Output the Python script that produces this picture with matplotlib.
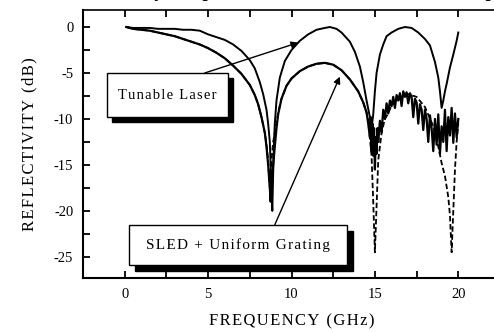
import matplotlib
matplotlib.use("Agg")
import matplotlib.pyplot as plt
from matplotlib.patches import Rectangle

plt.rcParams['font.family'] = ['Liberation Serif', 'DejaVu Serif']

# tunable laser trace (solid, upper)
laser_f = [0.1, 0.5, 1.0, 1.5, 2.0, 2.5, 3.0, 3.5, 4.0, 4.5, 5.0, 5.5, 6.0, 6.5, 7.0,
           7.5, 7.8, 8.1, 8.3, 8.5, 8.6, 8.7, 8.75, 8.8, 8.85, 8.9, 8.95, 9.0, 9.1,
           9.3, 9.6, 10.0, 10.5, 11.0, 11.5, 12.0, 12.3, 12.7, 13.0, 13.5, 13.8,
           14.1, 14.3, 14.5, 14.7, 14.8, 14.9, 15.0, 15.1, 15.3, 15.5, 15.7, 16.0,
           16.4, 16.8, 17.2, 17.6, 18.0, 18.3, 18.6, 18.8, 18.9, 19.0, 19.1, 19.2,
           19.3, 19.5, 19.7, 19.9, 20.0]
laser_db = [0.0, -0.1, -0.1, -0.1, -0.2, -0.2, -0.2, -0.3, -0.3, -0.4, -0.8, -1.1,
            -1.4, -1.9, -2.6, -3.6, -4.5, -6.0, -7.3, -9.0, -10.5, -12.5, -15.0,
            -18.0, -20.0, -16.0, -12.5, -10.5, -8.0, -5.5, -3.7, -2.5, -1.5, -0.8,
            -0.3, -0.1, 0.0, -0.2, -0.6, -1.6, -2.7, -4.3, -6.0, -8.0, -9.8, -11.0,
            -9.5, -7.0, -5.0, -3.0, -1.9, -1.0, -0.6, -0.2, 0.0, -0.1, -0.6, -1.3,
            -2.0, -3.8, -5.5, -7.0, -8.8, -8.0, -7.0, -6.2, -4.4, -3.0, -1.5, -0.6]

# SLED + uniform grating, measured (solid, noisy)
sled_f = [0.1, 0.5, 1.0, 1.5, 2.0, 2.5, 3.0, 3.5, 4.0, 4.5, 5.0, 5.5, 6.0, 6.5, 7.0,
          7.5, 7.8, 8.0, 8.2, 8.4, 8.5, 8.6, 8.7, 8.75, 8.8, 8.9, 9.0, 9.1, 9.2,
          9.4, 9.7, 10.0, 10.5, 11.0, 11.5, 12.0, 12.5, 13.0, 13.5, 14.0, 14.3,
          14.5, 14.6, 14.7, 14.75, 14.8, 14.85, 14.9, 14.95, 15.0, 15.05, 15.1,
          15.15, 15.2, 15.3, 15.4, 15.5, 15.6, 15.7, 15.8, 15.9, 16.0, 16.1, 16.2,
          16.3, 16.4, 16.5, 16.6, 16.7, 16.8, 16.9, 17.0, 17.1, 17.2, 17.3, 17.4,
          17.5, 17.6, 17.7, 17.8, 17.9, 18.0, 18.1, 18.2, 18.3, 18.4, 18.5, 18.6,
          18.7, 18.8, 18.9, 19.0, 19.1, 19.2, 19.3, 19.4, 19.5, 19.6, 19.7, 19.8,
          19.9, 20.0]
sled_db = [0.0, -0.2, -0.3, -0.4, -0.6, -0.8, -1.0, -1.3, -1.6, -1.9, -2.3, -2.8,
           -3.4, -4.2, -5.1, -6.3, -7.4, -8.4, -9.8, -11.5, -13.0, -15.0, -17.5,
           -19.0, -17.0, -15.0, -13.0, -11.0, -9.5, -7.8, -6.4, -5.6, -4.8, -4.3,
           -4.0, -3.9, -4.1, -4.7, -5.7, -7.0, -8.2, -9.3, -10.5, -12.0, -9.8,
           -13.5, -10.5, -14.0, -11.0, -15.5, -12.0, -13.8, -11.0, -12.5, -10.2,
           -11.5, -9.0, -10.0, -8.3, -9.4, -8.0, -8.6, -7.6, -8.8, -7.4, -8.0,
           -7.2, -8.6, -7.0, -7.6, -7.1, -8.3, -7.2, -7.6, -9.8, -7.8, -8.2, -10.5,
           -8.4, -9.0, -11.2, -9.0, -10.0, -12.5, -9.6, -11.0, -13.5, -10.0, -12.8,
           -9.5, -13.8, -10.8, -12.5, -9.0, -13.5, -9.8, -11.8, -8.8, -12.6, -9.4,
           -12.0, -10.0]

# SLED + uniform grating, calculated (dashed)
calc_f = [0.1, 0.5, 1.0, 1.5, 2.0, 2.5, 3.0, 3.5, 4.0, 4.5, 5.0, 5.5, 6.0, 6.5, 7.0,
          7.5, 7.8, 8.0, 8.2, 8.4, 8.5, 8.6, 8.7, 8.8, 8.9, 9.0, 9.1, 9.2, 9.4, 9.7,
          10.0, 10.5, 11.0, 11.5, 12.0, 12.5, 13.0, 13.5, 14.0, 14.3, 14.5, 14.6,
          14.8, 14.9, 15.0, 15.1, 15.2, 15.4, 15.6, 15.8, 16.0, 16.5, 17.0, 17.5,
          18.0, 18.5, 18.8, 19.0, 19.2, 19.4, 19.5, 19.6, 19.7, 19.8, 19.9, 20.0]
calc_db = [0.0, -0.2, -0.3, -0.4, -0.6, -0.8, -1.0, -1.3, -1.6, -1.9, -2.3, -2.8,
           -3.4, -4.2, -5.1, -6.3, -7.4, -8.4, -9.8, -11.5, -12.8, -14.5, -17.5,
           -14.5, -12.5, -11.5, -10.5, -9.3, -7.8, -6.4, -5.6, -4.8, -4.3, -4.0,
           -3.9, -4.1, -4.7, -5.7, -7.0, -8.2, -9.3, -10.2, -14.0, -19.0, -24.5,
           -19.5, -14.5, -11.5, -10.0, -9.4, -8.5, -7.6, -7.3, -7.6, -8.7, -10.8,
           -13.0, -14.8, -16.2, -18.5, -20.5, -24.5, -20.0, -15.5, -12.5, -10.5]

x_ticks = [0, 5, 10, 15, 20]
y_ticks = [0, -5, -10, -15, -20, -25]


def spaced(s):
    return '\u200a'.join(s)


fig = plt.figure(figsize=(4.94, 3.32), dpi=100)
ax = fig.add_axes([83 / 494, 54 / 332, 417 / 494, 268 / 332])

ax.plot(calc_f, calc_db, color='black', lw=1.3, ls=(0, (3, 1.5)))
ax.plot(laser_f, laser_db, color='black', lw=1.4)
ax.plot(sled_f, sled_db, color='black', lw=1.6)

ax.set_xlim(-2.5, 22.5)
ax.set_ylim(-27.3, 1.85)
ax.set_xticks(x_ticks)
ax.set_xticks([2.5, 7.5, 12.5, 17.5], minor=True)
ax.set_yticks(y_ticks)
ax.set_yticks([-2.5, -7.5, -12.5, -17.5, -22.5], minor=True)
ax.set_yticklabels([str(v) for v in y_ticks])
ax.tick_params(which='both', direction='in', length=5, width=1.3,
               top=True, right=False, labelsize=10.5, pad=7)
ax.spines['right'].set_visible(False)
for s in ['left', 'bottom']:
    ax.spines[s].set_linewidth(1.5)
ax.spines['top'].set_linewidth(1.2)

ax.set_xlabel(spaced('FREQUENCY (GHz)'), fontsize=12, labelpad=9)
ax.set_ylabel(spaced('REFLECTIVITY (dB)'), fontsize=12, labelpad=12)

# boxed labels with drop shadow
def shadow_box(x0, y0, x1, y1, label, dx, dy, size):
    ax.add_patch(Rectangle((x0 + dx, y0 - dy), x1 - x0, y1 - y0, facecolor='black',
                           edgecolor='black', zorder=5, clip_on=False))
    ax.add_patch(Rectangle((x0, y0), x1 - x0, y1 - y0, facecolor='white',
                           edgecolor='black', lw=1.0, zorder=6, clip_on=False))
    ax.text((x0 + x1) / 2, (y0 + y1) / 2, spaced(label), ha='center', va='center',
            fontsize=size, zorder=7)

shadow_box(-1.08, -9.8, 6.18, -5.0, 'Tunable Laser', 0.3, 0.55, 10.5)
shadow_box(0.24, -25.9, 13.3, -21.5, 'SLED + Uniform Grating', 0.36, 0.65, 11)

ax.annotate('', xy=(10.4, -1.7), xytext=(4.8, -5.0),
            arrowprops=dict(arrowstyle='-|>', color='black', lw=1.0,
                            mutation_scale=10, shrinkA=0, shrinkB=0), zorder=8)
ax.annotate('', xy=(12.9, -5.4), xytext=(9.0, -21.5),
            arrowprops=dict(arrowstyle='-|>', color='black', lw=1.0,
                            mutation_scale=10, shrinkA=0, shrinkB=0), zorder=8)

# title, cut off by the top edge in the source picture
fig.text(71 / 494, 1.0 + 2.5 / 332,
         'Reflectivity comparison of the laser and SLED setups',
         fontsize=13.7, fontweight='bold', va='baseline', ha='left')

fig.savefig('out.png', dpi=100)
